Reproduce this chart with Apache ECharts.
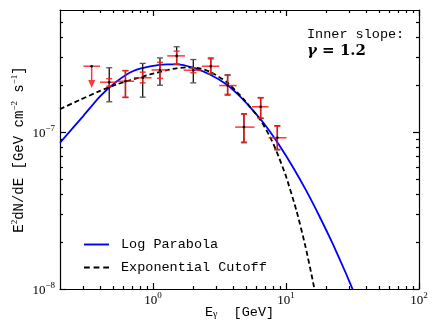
<!DOCTYPE html>
<html>
<head>
<meta charset="utf-8">
<script src="https://cdn.jsdelivr.net/npm/echarts@6/dist/echarts.min.js"></script>
<style>
  html, body { margin: 0; padding: 0; background: #fff; }
  #chart { width: 432px; height: 324px; }
</style>
</head>
<body>
<div id="chart"></div>
<script>
// flux points (E in GeV, E^2 dN/dE in GeV cm^-2 s^-1)
const energy = [0.469, 0.621, 0.837, 1.129, 1.507, 2.01, 2.72, 3.64, 4.83, 6.45, 8.61]
const eLow = [0.40, 0.535, 0.72, 0.975, 1.28, 1.70, 2.33, 3.15, 4.15, 5.55, 7.4]
const eHigh = [0.535, 0.72, 0.975, 1.30, 1.74, 2.33, 3.15, 4.25, 5.8, 7.4, 10.1]
const flux = [2.08e-7, 2.11e-7, 2.22e-7, 2.49e-7, 3.06e-7, 2.48e-7, 2.63e-7, 1.98e-7, 1.076e-7, 1.45e-7, 0.92e-7]
const statLow = [1.96e-7, 1.67e-7, 2.06e-7, 2.20e-7, 2.72e-7, 2.39e-7, 2.37e-7, 1.74e-7, 0.864e-7, 1.23e-7, 0.776e-7]
const statHigh = [2.19e-7, 2.46e-7, 2.41e-7, 2.78e-7, 3.28e-7, 2.57e-7, 2.93e-7, 2.30e-7, 1.30e-7, 1.65e-7, 1.09e-7]
const totLow = [1.56e-7, 1.66e-7, 1.67e-7, 1.99e-7, 2.70e-7, 2.06e-7, 2.34e-7, 1.72e-7, 0.855e-7, 1.22e-7, 0.77e-7]
const totHigh = [2.57e-7, 2.47e-7, 2.74e-7, 2.97e-7, 3.50e-7, 2.90e-7, 2.97e-7, 2.32e-7, 1.31e-7, 1.66e-7, 1.10e-7]

// upper limit in the first bin
const ulEnergy = [0.346]
const ulLow = [0.30]
const ulHigh = [0.40]
const ulFlux = [2.63e-7]
const ulArrow = [1.91e-7]

// model curves
const lpE = [0.2, 0.3, 0.4, 0.533, 0.711, 0.949, 1.27, 1.51, 2.01, 2.68, 3.58, 4.47, 5.62, 7.08, 8.91, 11.2, 14.1, 17.8, 22.4, 28.2, 35.5]
const lpF = [0.855e-7, 1.27e-7, 1.69e-7, 2.10e-7, 2.45e-7, 2.62e-7, 2.70e-7, 2.70e-7, 2.57e-7, 2.33e-7, 2.01e-7, 1.70e-7, 1.38e-7, 1.09e-7, 0.824e-7, 0.604e-7, 0.428e-7, 0.292e-7, 0.195e-7, 0.126e-7, 0.079e-7]
const ecE = [0.2, 0.28, 0.4, 0.53, 0.67, 0.95, 1.27, 1.5, 1.8, 2.25, 2.7, 3.6, 4.8, 6.4, 7.6, 8.5, 10, 12, 14, 16, 17.5]
const ecF = [1.40e-7, 1.60e-7, 1.83e-7, 2.01e-7, 2.14e-7, 2.33e-7, 2.48e-7, 2.55e-7, 2.59e-7, 2.55e-7, 2.42e-7, 2.08e-7, 1.62e-7, 1.20e-7, 0.93e-7, 0.753e-7, 0.523e-7, 0.315e-7, 0.187e-7, 0.110e-7, 0.073e-7]

// axis ticks
const xMajor = [1, 10, 100]
const xMinor = [0.3, 0.4, 0.5, 0.6, 0.7, 0.8, 0.9, 2, 3, 4, 5, 6, 7, 8, 9, 20, 30, 40, 50, 60, 70, 80, 90]
const yMajor = [1e-8, 1e-7]
const yMinor = [2e-8, 3e-8, 4e-8, 5e-8, 6e-8, 7e-8, 8e-8, 9e-8, 2e-7, 3e-7, 4e-7, 5e-7]

const mono = "'Liberation Mono', 'DejaVu Sans Mono', monospace"
const serif = "'Liberation Serif', 'DejaVu Serif', serif"

const chart = echarts.init(document.getElementById('chart'), null, { renderer: 'canvas' })

const powLabel = (v) => {
  const e = Math.round(Math.log10(v))
  return '{b|10}{s|' + String(e).replace('-', '\u2212') + '}'
}
const powRich = {
  b: { fontFamily: serif, fontSize: 13, color: '#000', lineHeight: 16, verticalAlign: 'bottom' },
  s: { fontFamily: serif, fontSize: 9, color: '#000', lineHeight: 9, verticalAlign: 'top' }
}

const line = { show: true, onZero: false, lineStyle: { color: '#000', width: 1.2 } }

const makeAxis = (type, pos, major, minor, extra) => {
  const base = {
    type: 'log',
    logBase: 10,
    position: pos,
    splitLine: { show: false },
    axisLine: major ? line : { show: false },
    axisTick: {
      show: true,
      inside: true,
      customValues: major || minor,
      length: major ? 6 : 3,
      lineStyle: { color: '#000', width: 1.2 }
    },
    axisLabel: { show: false }
  }
  return Object.assign(base, type === 'x' ? { min: 0.2, max: 100 } : { min: 1e-8, max: 6e-7 }, extra || {})
}

const xAxes = [
  makeAxis('x', 'bottom', xMajor, null, {
    axisLabel: { show: true, customValues: xMajor, formatter: powLabel, rich: powRich, margin: 2 },
    name: '{n|E}{u|\u03b3}{n|  [GeV]}',
    nameLocation: 'middle',
    nameGap: 15,
    nameMoveOverlap: false,
    nameTextStyle: {
      rich: {
        n: { fontFamily: mono, fontSize: 13.5, color: '#000', lineHeight: 15, verticalAlign: 'bottom' },
        u: { fontFamily: serif, fontSize: 10, color: '#000', lineHeight: 12, verticalAlign: 'bottom' }
      }
    }
  }),
  makeAxis('x', 'bottom', null, xMinor),
  makeAxis('x', 'top', xMajor, null),
  makeAxis('x', 'top', null, xMinor)
]

const yAxes = [
  makeAxis('y', 'left', yMajor, null, {
    axisLabel: { show: true, customValues: yMajor, formatter: powLabel, rich: powRich, margin: 5 },
    name: '{n|E}{s|2}{n|dN/dE [GeV cm}{s|\u22122}{n| s}{s|\u22121}{n|]}',
    nameLocation: 'middle',
    nameGap: 34,
    nameMoveOverlap: false,
    nameTextStyle: {
      rich: {
        n: { fontFamily: mono, fontSize: 14, color: '#000', lineHeight: 16, verticalAlign: 'bottom' },
        s: { fontFamily: serif, fontSize: 9, color: '#000', lineHeight: 9, verticalAlign: 'top' }
      }
    }
  }),
  makeAxis('y', 'left', null, yMinor),
  makeAxis('y', 'right', yMajor, null),
  makeAxis('y', 'right', null, yMinor)
]

const pointData = energy.map((e, i) => [e, eLow[i], eHigh[i], flux[i], statLow[i], statHigh[i], totLow[i], totHigh[i]])
const ulData = ulEnergy.map((e, i) => [e, ulLow[i], ulHigh[i], ulFlux[i], ulArrow[i]])

const RED = 'rgba(255, 20, 20, 0.85)'
const BLACK = '#111'

const renderPoint = (params, api) => {
  const e = api.value(0), f = api.value(3)
  const c = api.coord([e, f])
  const xl = api.coord([api.value(1), f])[0]
  const xh = api.coord([api.value(2), f])[0]
  const rl = api.coord([e, api.value(4)])[1]
  const rh = api.coord([e, api.value(5)])[1]
  const bl = api.coord([e, api.value(6)])[1]
  const bh = api.coord([e, api.value(7)])[1]
  const cap = 3
  const seg = (x1, y1, x2, y2, color, w) => ({
    type: 'line',
    shape: { x1, y1, x2, y2 },
    style: { stroke: color, lineWidth: w }
  })
  return {
    type: 'group',
    children: [
      seg(c[0], bl, c[0], bh, BLACK, 1.3),
      seg(c[0] - cap, bl, c[0] + cap, bl, '#555', 1.3),
      seg(c[0] - cap, bh, c[0] + cap, bh, '#555', 1.3),
      seg(xl, c[1], xh, c[1], RED, 1.5),
      seg(c[0], rl, c[0], rh, RED, 1.5),
      seg(c[0] - cap, rl, c[0] + cap, rl, RED, 1.5),
      seg(c[0] - cap, rh, c[0] + cap, rh, RED, 1.5),
      { type: 'circle', shape: { cx: c[0], cy: c[1], r: 1.3 }, style: { fill: '#000' } }
    ]
  }
}

const renderLimit = (params, api) => {
  const e = api.value(0), f = api.value(3)
  const c = api.coord([e, f])
  const xl = api.coord([api.value(1), f])[0]
  const xh = api.coord([api.value(2), f])[0]
  const tip = api.coord([e, api.value(4)])[1]
  const head = 8
  return {
    type: 'group',
    children: [
      { type: 'line', shape: { x1: xl, y1: c[1], x2: xh, y2: c[1] }, style: { stroke: RED, lineWidth: 1.5 } },
      { type: 'line', shape: { x1: c[0], y1: c[1], x2: c[0], y2: tip - head }, style: { stroke: RED, lineWidth: 1.5 } },
      { type: 'polygon', shape: { points: [[c[0] - 3.5, tip - head], [c[0] + 3.5, tip - head], [c[0], tip]] }, style: { fill: RED } },
      { type: 'circle', shape: { cx: c[0], cy: c[1], r: 1.3 }, style: { fill: '#000' } }
    ]
  }
}

// legend icons: plain line and dashed line
const solidIcon = 'path://M0,0h26v2h-26z'
const dashIcon = 'path://M0,0h6v2h-6z M10,0h6v2h-6z M20,0h6v2h-6z'

const option = {
  animation: false,
  backgroundColor: '#fff',
  grid: { left: 60, right: 13, top: 10, bottom: 35, containLabel: false, outerBoundsMode: 'none' },
  xAxis: xAxes,
  yAxis: yAxes,
  legend: {
    left: 79,
    top: 232,
    orient: 'vertical',
    itemWidth: 25,
    itemHeight: 2,
    itemGap: 8,
    data: [
      { name: 'Log Parabola', icon: solidIcon, itemStyle: { color: '#0000ff' } },
      { name: 'Exponential Cutoff', icon: dashIcon, itemStyle: { color: '#000' } }
    ],
    textStyle: { fontFamily: mono, fontSize: 13.5, color: '#000', padding: [0, 0, 0, 7], lineHeight: 15 }
  },
  graphic: [
    { type: 'text', left: 307, top: 27, style: { text: 'Inner slope:', font: '13.5px ' + mono, fill: '#000' } },
    {
      type: 'text', left: 307, top: 44,
      style: {
        text: '{g|\u03b3}{v| = 1.2}',
        rich: {
          g: { fontFamily: "'DejaVu Serif', serif", fontSize: 15, fontStyle: 'italic', fontWeight: 'bold', fill: '#000' },
          v: { fontFamily: "'DejaVu Serif', serif", fontSize: 15, fontWeight: 'bold', fill: '#000' }
        }
      }
    }
  ],
  series: [
    {
      name: 'Log Parabola',
      type: 'line',
      data: lpE.map((e, i) => [e, lpF[i]]),
      showSymbol: false,
      symbol: 'none',
      smooth: 0.2,
      clip: true,
      lineStyle: { color: '#0000ff', width: 1.8 },
      itemStyle: { color: '#0000ff' },
      z: 2
    },
    {
      name: 'Exponential Cutoff',
      type: 'line',
      data: ecE.map((e, i) => [e, ecF[i]]),
      showSymbol: false,
      symbol: 'none',
      smooth: 0.2,
      clip: true,
      lineStyle: { color: '#000', width: 1.8, type: [5, 3] },
      itemStyle: { color: '#000' },
      z: 3
    },
    {
      type: 'custom',
      renderItem: renderPoint,
      data: pointData,
      encode: { x: [0, 1, 2], y: [3, 4, 5, 6, 7] },
      z: 4
    },
    {
      type: 'custom',
      renderItem: renderLimit,
      data: ulData,
      encode: { x: [0, 1, 2], y: [3, 4] },
      z: 4
    }
  ]
}

chart.setOption(option)
</script>
</body>
</html>
